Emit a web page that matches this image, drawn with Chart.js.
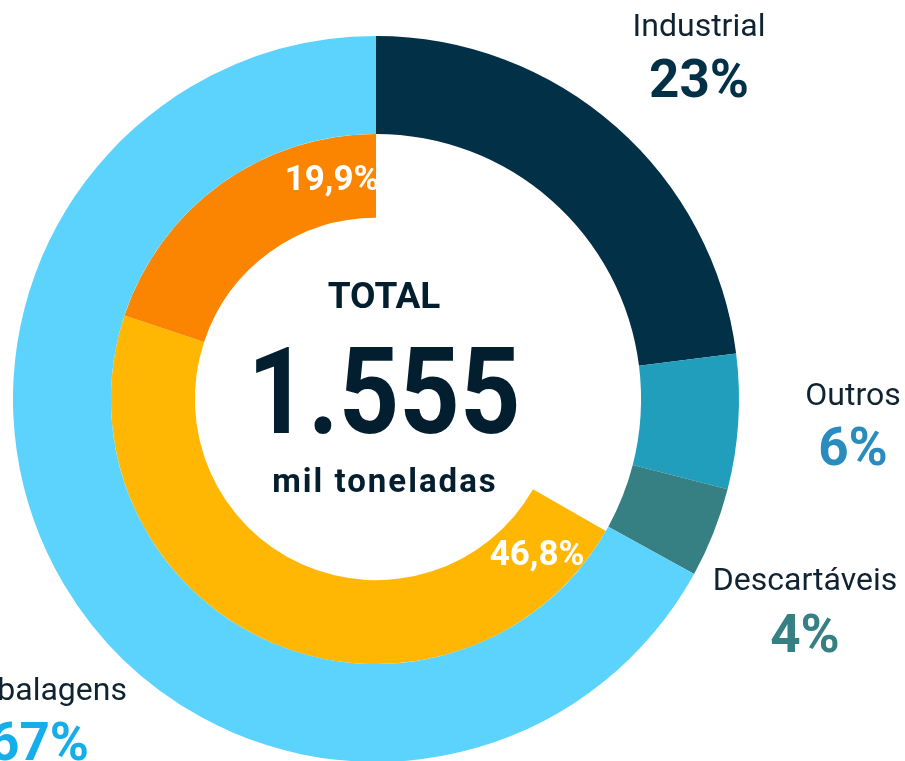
<!DOCTYPE html>
<html>
<head>
<meta charset="utf-8">
<script src="https://cdn.jsdelivr.net/npm/chart.js@4"></script>
<style>
  html, body { margin: 0; padding: 0; background: #fff; overflow: hidden; }
  #wrap { width: 905px; height: 800px; }
</style>
</head>
<body>
<div id="wrap"><canvas id="chart" width="905" height="800"></canvas></div>
<script>
// outer ring: share of total
const categories = ['Industrial', 'Outros', 'Descartáveis', 'Embalagens'];
const shares = [23, 6, 4, 67];
const shareLabels = ['23%', '6%', '4%', '67%'];
const ringColors = ['#023047', '#219ebc', '#367f82', '#5bd3fd'];
const valueColors = ['#023047', '#2a8cbe', '#367f82', '#14aeea'];

// inner ring: breakdown of Embalagens (first slot is the empty part)
const innerValues = [33.3, 46.8, 19.9];
const innerLabels = ['', '46,8%', '19,9%'];
const innerColors = ['rgba(0,0,0,0)', '#ffb703', '#fb8500'];

const totalTitle = 'TOTAL';
const totalValue = '1.555';
const totalUnit = 'mil toneladas';

// label placement, offsets from the doughnut centre
const outerLabelPos = [
    { dx: 323, name: -363, value: -302 },
    { dx: 477, name: 6, value: 66 },
    { dx: 429, name: 191, value: 253 },
    { dx: -337, name: 301, value: 361 },
];
const innerLabelPos = [null, { dx: 161, dy: 166 }, { dx: -44, dy: -209 }];

const FONT = 'Roboto, "DejaVu Sans", sans-serif';

const labelsPlugin = {
    id: 'labels',
    afterDraw(chart) {
        const ctx = chart.ctx;
        const arc = chart.getDatasetMeta(0).data[0];
        const cx = arc.x, cy = arc.y;
        ctx.save();
        ctx.textAlign = 'center';
        ctx.textBaseline = 'alphabetic';

        categories.forEach((name, i) => {
            const p = outerLabelPos[i];
            ctx.fillStyle = '#0f2331';
            ctx.font = '400 32px ' + FONT;
            ctx.fillText(name, cx + p.dx, cy + p.name);
            ctx.fillStyle = valueColors[i];
            ctx.font = '700 53px ' + FONT;
            ctx.fillText(shareLabels[i], cx + p.dx, cy + p.value);
        });

        innerLabels.forEach((t, i) => {
            const p = innerLabelPos[i];
            if (!p) return;
            ctx.fillStyle = '#ffffff';
            ctx.font = '700 35px ' + FONT;
            ctx.fillText(t, cx + p.dx, cy + p.dy);
        });

        // centre text
        ctx.fillStyle = '#031e2e';
        ctx.font = '700 37px ' + FONT;
        ctx.fillText(totalTitle, cx + 8, cy - 91);
        ctx.font = '700 33px ' + FONT;
        ctx.letterSpacing = '2px';
        ctx.fillText(totalUnit, cx + 9, cy + 93);
        ctx.letterSpacing = '0px';
        ctx.save();
        ctx.translate(cx + 8, cy + 34);
        ctx.scale(0.88, 1);
        ctx.font = '700 120px ' + FONT;
        ctx.fillText(totalValue, 0, 0);
        ctx.restore();

        ctx.restore();
    }
};

new Chart(document.getElementById('chart'), {
    type: 'doughnut',
    data: {
        labels: categories,
        datasets: [
            {
                data: shares,
                backgroundColor: ringColors,
                borderWidth: 0,
                weight: 98,
            },
            {
                data: innerValues,
                backgroundColor: innerColors,
                borderWidth: 0,
                weight: 84,
            },
        ],
    },
    options: {
        responsive: false,
        animation: false,
        cutout: '49.9%',
        layout: { padding: { left: 13, top: 36, right: 166, bottom: 38 } },
        plugins: {
            legend: { display: false },
            tooltip: { enabled: false },
        },
    },
    plugins: [labelsPlugin],
});
</script>
</body>
</html>
